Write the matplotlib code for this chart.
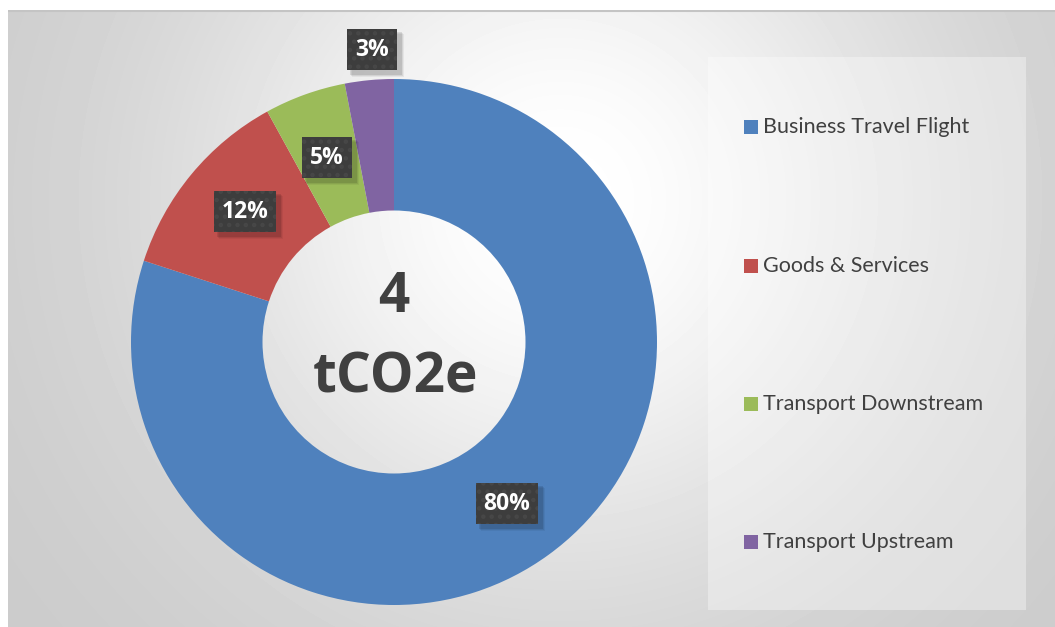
import numpy as np
import matplotlib
matplotlib.use("Agg")
import matplotlib.pyplot as plt
from matplotlib.patches import Rectangle

# ---- data ----
categories = ["Business Travel Flight", "Goods & Services", "Transport Downstream", "Transport Upstream"]
values = [80, 12, 5, 3]
labels = ["80%", "12%", "5%", "3%"]
colors = ["#4F81BD", "#C0504D", "#9BBB59", "#8064A2"]
center_value = "4"
center_unit = "tCO2e"

plt.rcParams['font.family'] = ['Lato', 'DejaVu Sans']
plt.rcParams['hatch.linewidth'] = 2.0
bold_family = ['Open Sans', 'DejaVu Sans']

W, H = 1055, 627
fig = plt.figure(figsize=(W / 100, H / 100), dpi=100)
fig.patch.set_facecolor("white")

# ---- background (chart area with radial gradient) ----
x0, y0, x1, y1 = 8, 10, 1055, 627
bg = fig.add_axes([x0 / W, 0, (x1 - x0) / W, (y1 - y0) / H])
bg.set_xlim(x0, x1)
bg.set_ylim(y1, y0)
yy, xx = np.mgrid[y0:y1, x0:x1]
d = np.hypot(xx - 560, yy - 200)
v = 0.79 + 0.21 * np.exp(-(d / 380.0) ** 2)
bg.imshow(v, cmap="gray", vmin=0, vmax=1, extent=(x0, x1, y1, y0), aspect="auto", interpolation="bilinear")
bg.plot([x0, x1], [y0 + 0.5, y0 + 0.5], color="#c4c4c4", lw=1.5)
bg.axis("off")

# legend box overlay
bg.add_patch(Rectangle((708, 57), 318, 553, facecolor="white", alpha=0.35, edgecolor="none"))

# ---- donut ----
cx, cy, R = 394, 342, 263
ax = fig.add_axes([(cx - R) / W, (H - cy - R) / H, 2 * R / W, 2 * R / H])
wedges, _ = ax.pie(values, colors=colors, startangle=90, counterclock=False,
                   radius=1.0, wedgeprops=dict(width=0.5, edgecolor="none"))
ax.set_xlim(-1, 1)
ax.set_ylim(-1, 1)
ax.axis("off")

# ---- overlay axes in pixel coordinates for labels ----
ov = fig.add_axes([0, 0, 1, 1])
ov.set_xlim(0, W)
ov.set_ylim(H, 0)
ov.axis("off")

label_pos = [(507, 503), (245, 211), (327, 157), (372, 49)]
texts = []
for (lx, ly), lab in zip(label_pos, labels):
    t = ov.text(lx, ly + 1, lab, fontsize=16.5, fontweight="bold", color="white",
                family=bold_family, ha="center", va="center", zorder=10)
    texts.append(t)

fig.canvas.draw()
renderer = fig.canvas.get_renderer()
box_h = 41
for t, (lx, ly) in zip(texts, label_pos):
    ext = t.get_window_extent(renderer)
    bw = ext.width + 16
    # soft shadow
    for k, a in [(6, 0.05), (5, 0.07), (4, 0.10)]:
        ov.add_patch(Rectangle((lx - bw / 2 + k - 1, ly - box_h / 2 + k - 1), bw + 2, box_h + 2,
                               facecolor="black", alpha=a, edgecolor="none", zorder=7))
    ov.add_patch(Rectangle((lx - bw / 2, ly - box_h / 2), bw, box_h,
                           facecolor="#3d3d3d", edgecolor="#474747", linewidth=0,
                           hatch="..", zorder=8))

# center text
ov.text(394, 298, center_value, fontsize=39.5, fontweight="bold", color="#404040",
        family=bold_family, ha="center", va="center")
ov.text(395, 378, center_unit, fontsize=39.5, fontweight="bold", color="#404040",
        family=bold_family, ha="center", va="center")

# legend entries
leg_y = [127, 266, 404, 542]
for yv, cat, col in zip(leg_y, categories, colors):
    ov.add_patch(Rectangle((744, yv - 7), 14, 14, facecolor=col, edgecolor="none"))
    ov.text(763, yv, cat, fontsize=15.5, color="#404040", ha="left", va="center")

fig.savefig("out.png", dpi=100)
